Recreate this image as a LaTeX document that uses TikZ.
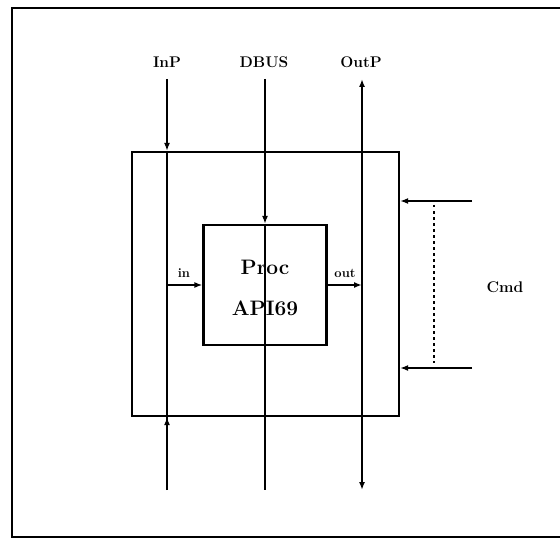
\documentclass[tikz,border=0pt]{standalone}
\usepackage{fontspec}
\usetikzlibrary{arrows.meta}
\begin{document}
\begin{tikzpicture}[x=1bp,y=-1bp,
  line width=1.6bp,
  arr/.style={-{Latex[length=8bp,width=6bp]}},
  dblarr/.style={{Latex[length=8bp,width=6bp]}-{Latex[length=8bp,width=6bp]}},
  boxstyle/.style={draw,line width=2.2bp,inner sep=0pt,rectangle},
  lbl/.style={font=\fontsize{15.5}{17}\selectfont\bfseries\addfontfeatures{LetterSpace=10}},
  smalllbl/.style={font=\fontsize{13}{14}\selectfont\bfseries\addfontfeatures{LetterSpace=14},inner sep=0pt},
  proclbl/.style={font=\fontsize{21}{23}\selectfont\bfseries}
]
\useasboundingbox (0,0) rectangle (560,538);
% outer frame (left, top, bottom only)
\draw[line width=1.8bp] (560,8) -- (12,8) -- (12,537) -- (560,537);
% boxes
\node[boxstyle,minimum width=267bp,minimum height=264bp] (big) at (265.5,284) {};
\node[boxstyle,minimum width=123bp,minimum height=120bp] (proc) at (265,285) {};
\node[proclbl] (proct) at (265,267) {Proc};
\node[proclbl] (apit) at (265,308) {API69};
% top labels
\node[lbl] (inp) at (167,62) {InP};
\node[lbl] (dbus) at (264,62) {DBUS};
\node[lbl] (outp) at (361,62) {OutP};
\node[lbl] (cmd) at (505,287) {Cmd};
% coordinates
\coordinate (inTop) at (167,79);
\coordinate (inBot) at (167,490);
\coordinate (dbTop) at (265,79);
\coordinate (dbBot) at (265,490);
\coordinate (outTop) at (362,79);
\coordinate (outBot) at (362,490);
\coordinate (inPort) at (167,285);
\coordinate (outPort) at (362,285);
\coordinate (c1) at (472,201);
\coordinate (c2) at (472,368);
\coordinate (d1) at (434,205);
\coordinate (d2) at (434,363);
% InP
\draw[arr] (inTop) -- (inTop |- big.north);
\draw (inTop |- big.north) -- (inBot);
\draw[arr] (inBot) -- (inBot |- big.south);
% DBUS
\draw[arr] (dbTop) -- (proc.north);
\draw (proc.north) -- (dbBot);
% OutP
\draw[dblarr] (outBot) -- (outTop);
% in / out
\draw[arr] (inPort) -- (proc.west);
\draw[arr] (proc.east) -- (outPort);
\node[smalllbl] (inl) at (184,273) {in};
\node[smalllbl] (outl) at (345,273) {out};
% Cmd
\draw[arr] (c1) -- (c1 -| big.east);
\draw[arr] (c2) -- (c2 -| big.east);
\draw[line width=1.6bp,dash pattern=on 2.5bp off 3.5bp] (d1) -- (d2);
\end{tikzpicture}
\end{document}
